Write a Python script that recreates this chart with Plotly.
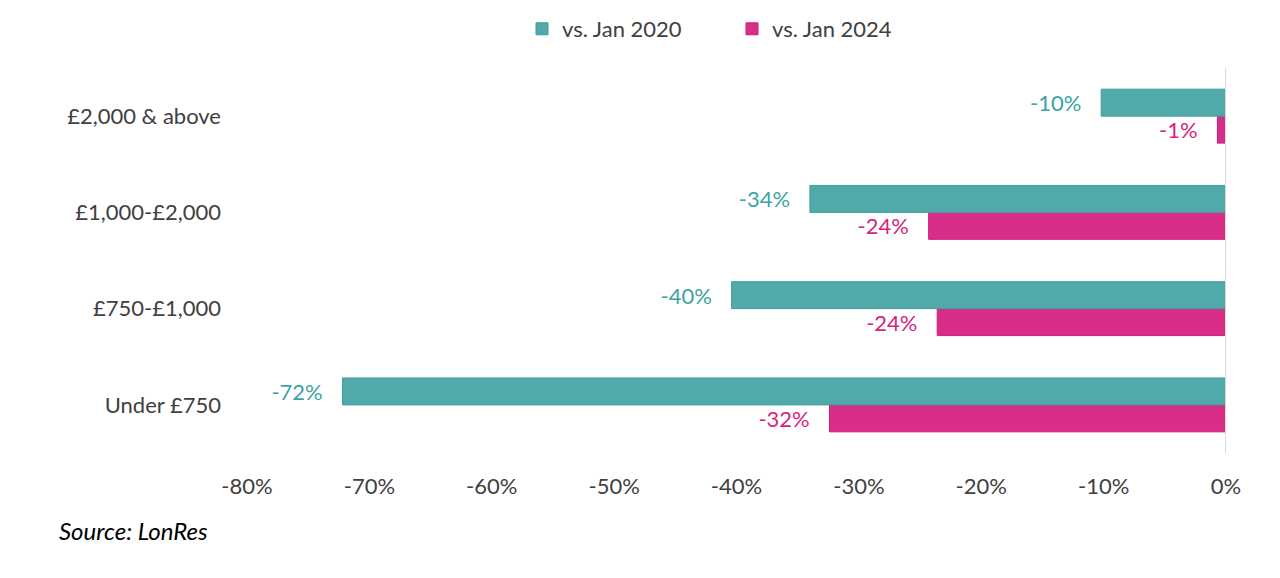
import plotly.graph_objects as go

categories = ["Under £750", "£750-£1,000", "£1,000-£2,000", "£2,000 & above"]
vs_jan_2020 = [-72.2, -40.4, -34.0, -10.2]
vs_jan_2024 = [-32.4, -23.6, -24.3, -0.7]
x_ticks = [-80, -70, -60, -50, -40, -30, -20, -10, 0]
x_tick_labels = ["-80%", "-70%", "-60%", "-50%", "-40%", "-30%", "-20%", "-10%", "0%"]

TEAL = "#52A9AA"
TEAL_TXT = "#3CA3A3"
PINK = "#D82E89"
PINK_TXT = "#D6237F"
FONT = "Lato"

L, R, T, B = 239, 62, 60, 133
PW = 1280 - L - R
PH = 578 - T - B

def labels(vals):
    return [f"{round(v):d}%\u00a0\u00a0\u00a0" for v in vals]

fig = go.Figure()
fig.add_trace(go.Bar(
    y=categories, x=vs_jan_2024, name="vs. Jan 2024", orientation="h",
    marker=dict(color=PINK, line=dict(color="#CC1F7C", width=1)),
    text=labels(vs_jan_2024), textposition="outside",
    textfont=dict(color=PINK_TXT, size=22, family=FONT), cliponaxis=False,
))
fig.add_trace(go.Bar(
    y=categories, x=vs_jan_2020, name="vs. Jan 2020", orientation="h",
    marker=dict(color=TEAL, line=dict(color="#3E9E9E", width=1)),
    text=labels(vs_jan_2020), textposition="outside",
    textfont=dict(color=TEAL_TXT, size=22, family=FONT), cliponaxis=False,
))

fig.add_shape(type="line", xref="x", yref="paper", x0=0, x1=0, y0=0, y1=1,
              line=dict(color="#D9D9D9", width=2))

fig.update_layout(
    width=1280, height=578,
    margin=dict(l=L, r=R, t=T, b=B),
    paper_bgcolor="white", plot_bgcolor="white",
    barmode="group", bargap=0.44, bargroupgap=0,
    font=dict(family=FONT, size=22, color="#404040"),
    showlegend=True,
    legend=dict(orientation="h", x=(514 - L) / PW, xanchor="left",
                yref="container", y=1.0, yanchor="top", traceorder="reversed",
                font=dict(size=22, color="#404040"), itemwidth=30,
                entrywidthmode="pixels", entrywidth=165),
    xaxis=dict(range=[-80, 0], tickmode="array", tickvals=x_ticks, ticktext=x_tick_labels,
               showgrid=False, zeroline=False, showline=False, ticks="",
               ticklabelstandoff=18, tickfont=dict(size=22, color="#404040")),
    yaxis=dict(showgrid=False, zeroline=False, showline=False, ticks="",
               ticklabelstandoff=25, tickfont=dict(size=22, color="#404040")),
)

fig.add_annotation(text="<i>Source: LonRes</i>", xref="paper", yref="paper",
                   x=(49 - L) / PW, xanchor="left",
                   y=-(522 - (578 - B)) / PH, yanchor="middle",
                   showarrow=False, font=dict(size=24, color="#000000", family=FONT))

fig.write_html("out.html")
